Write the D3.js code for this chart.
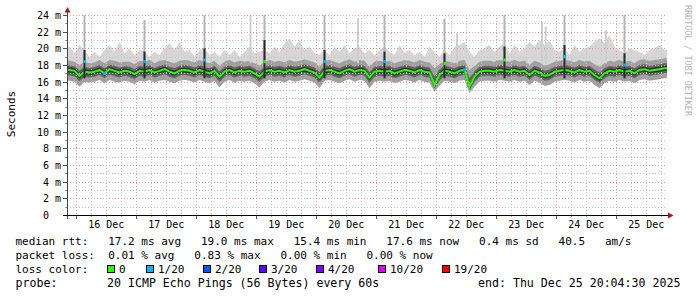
<!DOCTYPE html>
<html>
<head>
<meta charset="utf-8">
<script src="https://cdn.jsdelivr.net/npm/d3@7/dist/d3.min.js"></script>
<style>
  body { margin: 0; background: #fff; }
  svg text { font-family: "DejaVu Sans Mono", monospace; }
</style>
</head>
<body>
<div id="chart"></div>
<script>
// two-hour slots, first one starts Dec 15 20:31 (clock time kept as UTC)
const slotStart = Date.UTC(2025, 11, 15, 20, 31, 12);
const slotMs = 2 * 3600 * 1000;

// median rtt per slot (ms), one row per 24h
const medMs = [
  17.4, 17.3, 16.7, 17.2, 17.1, 17.2, 17.4, 17.0, 17.5, 17.3, 17.1, 17.3,
  17.2, 16.9, 17.3, 17.2, 17.4, 17.1, 17.3, 17.5, 17.2, 17.0, 17.3, 17.4,
  17.3, 17.1, 17.4, 17.2, 17.0, 17.3, 16.6, 17.2, 17.4, 17.1, 17.3, 17.2,
  17.3, 17.0, 16.6, 17.2, 17.4, 17.2, 17.3, 17.1, 17.4, 17.2, 17.3, 17.5,
  17.3, 17.1, 16.5, 17.3, 17.4, 17.2, 17.0, 17.3, 17.5, 17.2, 17.4, 17.3,
  16.5, 17.2, 17.3, 17.2, 17.3, 17.0, 17.2, 17.4, 17.3, 17.1, 17.4, 17.2,
  17.1, 15.6, 16.8, 17.3, 17.2, 17.0, 17.3, 17.4, 15.4, 16.6, 17.2, 17.3,
  17.3, 17.2, 17.4, 17.3, 17.2, 17.4, 17.2, 17.3, 16.8, 17.3, 17.1, 16.7,
  16.8, 17.2, 17.3, 17.4, 17.3, 17.1, 17.4, 17.2, 17.3, 16.8, 16.4, 17.0,
  17.3, 17.2, 17.4, 17.2, 17.3, 17.0, 17.4, 17.5, 17.3, 17.4, 17.5, 17.6
];
// upper edge of the dense smoke
const hiMs = [
  18.5, 18.4, 18.0, 18.4, 18.2, 18.3, 18.6, 18.2, 18.6, 18.5, 18.3, 18.4,
  18.4, 18.1, 18.5, 18.4, 18.6, 18.2, 18.5, 18.6, 18.4, 18.2, 18.5, 18.6,
  18.5, 18.3, 18.6, 18.4, 18.2, 18.5, 17.9, 18.4, 18.6, 18.3, 18.5, 18.4,
  18.5, 18.2, 17.9, 18.4, 18.6, 18.4, 18.5, 18.3, 18.6, 18.4, 18.5, 18.7,
  18.5, 18.3, 17.8, 18.5, 18.6, 18.4, 18.2, 18.5, 18.7, 18.4, 18.6, 18.5,
  17.8, 18.4, 18.5, 18.4, 18.5, 18.2, 18.4, 18.6, 18.5, 18.3, 18.6, 18.4,
  18.3, 17.6, 18.1, 18.5, 18.4, 18.2, 18.5, 18.6, 17.4, 17.9, 18.4, 18.5,
  18.5, 18.4, 18.6, 18.5, 18.4, 18.6, 18.4, 18.5, 18.0, 18.5, 18.3, 17.9,
  18.1, 18.4, 18.5, 18.6, 18.5, 18.3, 18.6, 18.4, 18.5, 18.1, 17.8, 18.2,
  18.5, 18.4, 18.6, 18.4, 18.5, 18.2, 18.6, 18.7, 18.5, 18.6, 18.7, 18.8
];
// lowest ping per slot
const loMs = [
  16.1, 16.0, 15.4, 16.0, 15.9, 16.0, 16.2, 15.8, 16.2, 16.0, 15.9, 16.1,
  16.0, 15.7, 16.1, 16.0, 16.2, 15.9, 16.1, 16.2, 16.0, 15.8, 16.1, 16.2,
  16.1, 15.9, 16.2, 16.0, 15.8, 16.1, 15.3, 16.0, 16.2, 15.9, 16.1, 16.0,
  16.1, 15.8, 15.3, 16.0, 16.2, 16.0, 16.1, 15.9, 16.2, 16.0, 16.1, 16.3,
  16.1, 15.9, 15.2, 16.1, 16.2, 16.0, 15.8, 16.1, 16.3, 16.0, 16.2, 16.1,
  15.2, 16.0, 16.1, 16.0, 16.1, 15.8, 16.0, 16.2, 16.1, 15.9, 16.2, 16.0,
  15.9, 14.8, 15.5, 16.1, 16.0, 15.8, 16.1, 16.2, 14.6, 15.4, 16.0, 16.1,
  16.1, 16.0, 16.2, 16.1, 16.0, 16.2, 16.0, 16.1, 15.6, 16.1, 15.9, 15.5,
  15.6, 16.0, 16.1, 16.2, 16.1, 15.9, 16.2, 16.0, 16.1, 15.6, 15.2, 15.8,
  16.1, 16.0, 16.2, 16.0, 16.1, 15.8, 16.2, 16.3, 16.1, 16.2, 16.3, 16.4
];
// highest ping per slot
const maxMs = [
  20.2, 19.4, 20.4, 19.8, 19.0, 19.6, 19.0, 19.8, 20.4, 19.6, 20.8, 19.4,
  20.0, 19.2, 19.8, 19.6, 19.0, 19.6, 19.2, 20.0, 20.6, 19.8, 20.8, 19.6,
  19.8, 19.0, 19.8, 20.0, 19.2, 19.6, 19.0, 19.8, 19.2, 19.8, 19.0, 19.6,
  20.2, 19.4, 19.6, 19.8, 19.4, 20.2, 19.6, 20.6, 21.2, 20.2, 21.0, 19.8,
  20.2, 19.4, 19.2, 19.8, 19.2, 20.2, 19.6, 20.4, 19.4, 20.0, 20.2, 19.4,
  19.8, 19.2, 19.8, 20.2, 19.6, 19.2, 20.4, 19.4, 19.8, 19.2, 19.6, 19.0,
  20.2, 19.6, 19.0, 19.8, 19.2, 20.2, 20.4, 20.8, 19.6, 19.0, 19.8, 20.0,
  20.4, 19.6, 20.2, 20.6, 19.4, 20.4, 19.6, 20.0, 20.8, 20.2, 21.0, 20.4,
  21.0, 19.8, 19.6, 20.0, 19.2, 20.4, 19.6, 20.0, 20.2, 20.8, 21.2, 20.6,
  21.6, 20.2, 19.8, 19.4, 20.0, 19.8, 19.6, 19.2, 19.8, 20.0, 20.4, 19.8
];
// loss class per slot (index into lossLabels)
const slotLoss = [
  0, 0, 0, 0, 0, 0, 0, 1, 0, 0, 0, 0,
  0, 0, 0, 0, 0, 0, 0, 0, 0, 0, 0, 0,
  0, 0, 0, 0, 0, 0, 0, 0, 0, 0, 0, 0,
  0, 0, 0, 0, 0, 0, 0, 0, 0, 0, 0, 0,
  0, 0, 0, 0, 0, 0, 0, 0, 0, 0, 0, 0,
  0, 0, 0, 0, 0, 0, 0, 0, 0, 0, 0, 0,
  0, 0, 0, 0, 0, 0, 0, 1, 0, 0, 0, 0,
  0, 0, 0, 0, 0, 0, 0, 0, 0, 0, 0, 0,
  0, 0, 0, 0, 0, 0, 0, 0, 0, 0, 0, 0,
  0, 0, 0, 0, 0, 0, 0, 0, 0, 0, 0, 0
];

// the nightly ~03:30 spikes
const spikeDays = [16, 17, 18, 19, 20, 21, 22, 23, 24, 25];
const spikeMax  = [24.0, 23.4, 24.0, 24.0, 24.0, 24.0, 23.6, 24.0, 24.0, 24.0];
const spikeHi   = [19.8, 19.6, 20.0, 21.0, 19.8, 19.6, 19.4, 20.2, 20.4, 19.4];
const spikeMed  = [18.4, 18.4, 18.6, 18.4, 18.4, 18.4, 18.2, 18.6, 19.0, 18.0];
const spikeLoss = [1, 1, 1, 0, 1, 1, 0, 0, 1, 1];

// single tall outlier pings [day, hour, minute]
const needleTimes = [[18, 21, 55], [20, 16, 55], [22, 8, 31], [23, 18, 31], [23, 20, 0], [24, 20, 7]];
const needleMax = [24.0, 23.6, 21.8, 23.2, 22.6, 22.2];

const yTicks = [0, 2, 4, 6, 8, 10, 12, 14, 16, 18, 20, 22, 24];
const lossLabels = ["0", "1/20", "2/20", "3/20", "4/20", "10/20", "19/20"];
const lossColors = ["#26ff00", "#00b8ff", "#0059ff", "#5e00ff", "#7e00ff", "#dd00ff", "#ff0000"];

const rttStats = ["17.2 ms avg", "19.0 ms max", "15.4 ms min", "17.6 ms now", "0.4 ms sd", "40.5   am/s"];
const lossStats = ["0.01 % avg", "0.83 % max", "0.00 % min", "0.00 % now"];
const probeText = "20 ICMP Echo Pings (56 Bytes) every 60s";
const endText = "end: Thu Dec 25 20:04:30 2025";

const W = 697, H = 297;
const svg = d3.select("#chart").append("svg")
  .attr("width", W).attr("height", H)
  .style("display", "block");
svg.append("rect").attr("width", W).attr("height", H).attr("fill", "#fff");

const t0 = new Date(slotStart), t1 = new Date(slotStart + 10 * 864e5);
const x = d3.scaleUtc().domain([t0, t1]).range([67, 667]);
const y = d3.scaleLinear().domain([0, 24]).range([215, 15]);

// slot centres, stretched to the plot edges at both ends
const pts = medMs.map((d, i) => ({ t: slotStart + (i + 0.5) * slotMs, i }));
pts.unshift({ t: slotStart, i: 0 });
pts.push({ t: slotStart + medMs.length * slotMs, i: medMs.length - 1 });

const band = (lo, hi, fill) => {
  svg.append("path")
    .datum(pts)
    .attr("fill", fill)
    .attr("d", d3.area()
      .x(p => x(p.t))
      .y0(p => y(lo(p.i)))
      .y1(p => y(hi(p.i))));
};

// smoke
band(i => medMs[i], i => maxMs[i], "#d6d6d6");
band(i => loMs[i], i => hiMs[i], "#a0a0a0");
band(i => (loMs[i] + medMs[i]) / 2, i => (hiMs[i] + medMs[i]) / 2, "#636363");
band(i => medMs[i] - 0.3, i => medMs[i] + 0.3, "#303030");

// outlier needles
const needles = needleTimes.map((n, k) => ({ t: Date.UTC(2025, 11, n[0], n[1], n[2]), k }));
svg.selectAll(".nd").data(needles).enter().append("rect")
  .attr("x", n => x(n.t) - 1).attr("width", 2)
  .attr("y", n => y(needleMax[n.k]))
  .attr("height", n => y(18.2) - y(needleMax[n.k]))
  .attr("fill", "#cfcfcf");

// spikes
const spikes = spikeDays.map((d, k) => ({
  t: Date.UTC(2025, 11, d, 3, 31), k
}));
const sp = svg.append("g");
sp.selectAll(".sl").data(spikes).enter().append("rect")
  .attr("x", s => x(s.t) - 1).attr("width", 2)
  .attr("y", s => y(spikeMax[s.k]))
  .attr("height", s => y(17.6) - y(spikeMax[s.k]))
  .attr("fill", "#b4b4b4");
sp.selectAll(".sd").data(spikes).enter().append("rect")
  .attr("x", s => x(s.t) - 1).attr("width", 2)
  .attr("y", s => y(spikeHi[s.k]))
  .attr("height", s => y(16.4) - y(spikeHi[s.k]))
  .attr("fill", "#2a2a2a");

// grid
const grid = svg.append("g");
const minorY = d3.range(1, 25, 2);
grid.selectAll(".gy").data(minorY).enter().append("line")
  .attr("x1", 67).attr("x2", 667)
  .attr("y1", d => Math.round(y(d)) + 0.5).attr("y2", d => Math.round(y(d)) + 0.5)
  .attr("stroke", "#c4c4c4").attr("stroke-dasharray", "1,2");
grid.selectAll(".gY").data(yTicks.filter(d => d > 0)).enter().append("line")
  .attr("x1", 67).attr("x2", 667)
  .attr("y1", d => Math.round(y(d)) + 0.5).attr("y2", d => Math.round(y(d)) + 0.5)
  .attr("stroke", "#e39a9a").attr("stroke-dasharray", "1,2");
const sixH = d3.utcHour.every(6).range(t0, t1);
grid.selectAll(".gx").data(sixH).enter().append("line")
  .attr("x1", d => Math.round(x(d)) + 0.5).attr("x2", d => Math.round(x(d)) + 0.5)
  .attr("y1", 15).attr("y2", 215)
  .attr("stroke", d => d.getUTCHours() === 0 ? "#e39a9a" : "#c4c4c4")
  .attr("stroke-dasharray", "1,2");

// median line, then loss marks on the lossy slots
svg.append("path")
  .datum(pts)
  .attr("fill", "none")
  .attr("stroke", lossColors[0])
  .attr("stroke-width", 2)
  .attr("d", d3.line().x(p => x(p.t)).y(p => y(medMs[p.i])));
svg.selectAll(".lm").data(pts.slice(1, -1).filter(p => slotLoss[p.i] > 0)).enter().append("rect")
  .attr("x", p => x(p.t) - 1.5).attr("width", 3)
  .attr("y", p => y(medMs[p.i]) - 1.5).attr("height", 3)
  .attr("fill", p => lossColors[slotLoss[p.i]]);

sp.raise();
svg.selectAll(".sm").data(spikes).enter().append("rect")
  .attr("x", s => x(s.t) - 1).attr("width", 2.5)
  .attr("y", s => y(spikeMed[s.k]) - 1.5).attr("height", 3)
  .attr("fill", s => lossColors[spikeLoss[s.k]]);

// axes
const yAxis = svg.append("g")
  .attr("transform", "translate(67,0)")
  .call(d3.axisLeft(y).tickValues(yTicks)
    .tickFormat(d => d ? d + " m" : "0\u00a0\u00a0")
    .tickSize(0).tickPadding(6));
yAxis.select(".domain").remove();
yAxis.selectAll("text")
  .attr("font-family", "DejaVu Sans Mono").attr("font-size", 10)
  .attr("fill", "#000").attr("dy", "0.36em");

const xAxis = svg.append("g")
  .attr("transform", "translate(0,215)")
  .call(d3.axisBottom(x)
    .tickValues(d3.utcDay.range(t0, t1).map(d => d3.utcHour.offset(d, 12)))
    .tickFormat(d3.utcFormat("%d Dec"))
    .tickSize(0).tickPadding(6));
xAxis.select(".domain").remove();
xAxis.selectAll("text")
  .attr("font-family", "DejaVu Sans Mono").attr("font-size", 10).attr("fill", "#000");

const ax = svg.append("g");
ax.selectAll(".ty").data(d3.range(0, 25)).enter().append("line")
  .attr("x1", d => d % 2 ? 65 : 63).attr("x2", 67)
  .attr("y1", d => Math.round(y(d)) + 0.5).attr("y2", d => Math.round(y(d)) + 0.5)
  .attr("stroke", d => d % 2 ? "#999" : "#555");
ax.selectAll(".tx").data(sixH).enter().append("line")
  .attr("x1", d => Math.round(x(d)) + 0.5).attr("x2", d => Math.round(x(d)) + 0.5)
  .attr("y1", 215).attr("y2", d => d.getUTCHours() === 0 ? 219 : 217)
  .attr("stroke", d => d.getUTCHours() === 0 ? "#555" : "#999");
ax.append("line").attr("x1", 67.5).attr("x2", 67.5).attr("y1", 219).attr("y2", 11)
  .attr("stroke", "#444");
ax.append("line").attr("x1", 63).attr("x2", 669).attr("y1", 215.5).attr("y2", 215.5)
  .attr("stroke", "#000");
ax.append("path").attr("d", "M64.5,12.5L70.5,12.5L67.5,7Z").attr("fill", "#a01818");
ax.append("path").attr("d", "M668,212.5L668,218.5L673.5,215.5Z").attr("fill", "#a01818");

// axis title and watermark
svg.append("text")
  .attr("transform", "translate(15,114) rotate(-90)")
  .attr("text-anchor", "middle").attr("font-size", 11).attr("fill", "#000")
  .text("Seconds");
svg.append("text")
  .attr("transform", "translate(685,5) rotate(90)")
  .attr("font-size", 8.4).attr("fill", "#b4b4b4")
  .text("RRDTOOL / TOBI OETIKER");

// legend
const lg = svg.append("g").attr("font-size", 11).attr("fill", "#000");
const legendLine = (yy, str, xx, fs) => lg.append("text")
  .attr("x", xx).attr("y", yy).attr("font-size", fs || 11)
  .style("white-space", "pre").text(str);
legendLine(245, "median rtt:   " + rttStats.join("   "), 15.5);
legendLine(259, "packet loss:  " + lossStats.join("   "), 15.5);
legendLine(273, "loss color:", 15.5);
legendLine(287, "probe:", 15.5, 11.6);
legendLine(287, probeText, 107, 11.6);
legendLine(287, endText, 478, 11.6);

const boxX = [107, 146, 203, 259, 316, 378, 442];
lossLabels.forEach((l, i) => {
  lg.append("rect")
    .attr("x", boxX[i] + 0.5).attr("y", 265.5).attr("width", 7).attr("height", 7)
    .attr("fill", lossColors[i]).attr("stroke", "#000");
  legendLine(273, l, boxX[i] + 12);
});
</script>
</body>
</html>
